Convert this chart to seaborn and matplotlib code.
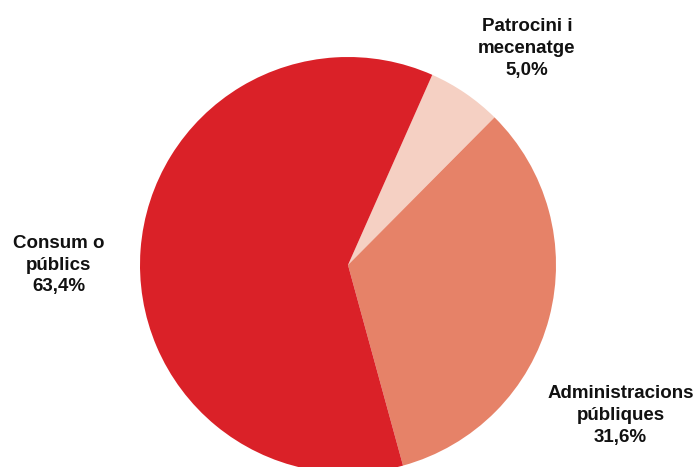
import seaborn as sns
import matplotlib.pyplot as plt

# shares as drawn in the picture (clockwise from the top-right slice)
categories = ['Patrocini i\nmecenatge', 'Administracions\npúbliques', 'Consum o\npúblics']
shares = [5.8, 33.3, 60.9]
pct_labels = ['5,0%', '31,6%', '63,4%']
colors = ['#F5D0C3', '#E68268', '#DA2128']

# label anchors in data units (pie radius = 1)
label_xy = [(0.86, 1.04), (1.31, -0.725), (-1.39, 0.0)]

sns.set_theme(style='white')
plt.rcParams['font.family'] = ['Liberation Sans', 'DejaVu Sans']

fig = plt.figure(figsize=(6.97, 4.67), dpi=100)
ax = fig.add_axes([0, 0, 1, 1])

ax.pie(shares, colors=colors, startangle=66.1, counterclock=False,
       radius=1.0, center=(0, 0), wedgeprops=dict(linewidth=0))

for cat, pct, (x, y) in zip(categories, pct_labels, label_xy):
    ax.text(x, y, f'{cat}\n{pct}', ha='center', va='center',
            fontsize=13.5, fontweight='bold', color='#111111',
            linespacing=1.38)

scale = 208.0
ax.set_xlim(-348 / scale, (697 - 348) / scale)
ax.set_ylim(-202 / scale, 265 / scale)
ax.set_aspect('auto')
ax.axis('off')

plt.savefig('out.png', dpi=100)
